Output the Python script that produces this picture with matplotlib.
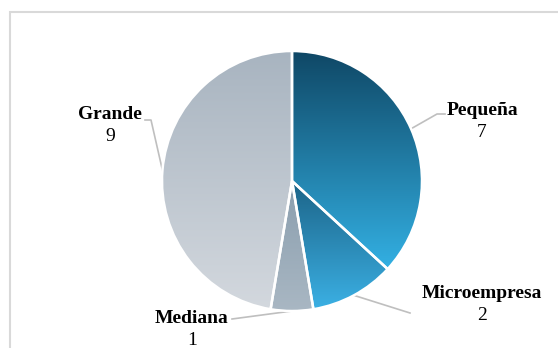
import matplotlib
matplotlib.use("Agg")
import matplotlib.pyplot as plt
import numpy as np
from matplotlib.colors import LinearSegmentedColormap
from matplotlib.patches import Rectangle

labels = ["Pequeña", "Microempresa", "Mediana", "Grande"]
values = [7, 2, 1, 9]

# gradient colours (top -> bottom) for each slice
grad_top = ["#0f4765", "#1c6387", "#8a9eae", "#a8b4c0"]
grad_bottom = ["#33b0e3", "#3bb0e4", "#a9b7c3", "#d3d8de"]

# layout in pixels of the original picture
cx, cy, rad = 292, 181, 130
label_xy = [(482, 115), (482, 298), (192, 323), (110, 119)]
number_dy = 22
elbow = [[(437, 114), (445, 114)],
         [(410, 313)],
         [(232, 319)],
         [(151, 120), (145, 120)]]


def px(x, y):
    return (x - cx) / rad, (cy - y) / rad


plt.rcParams['font.family'] = ['Liberation Serif', 'DejaVu Serif']

fig = plt.figure(figsize=(5.58, 3.48), dpi=100)
ax = fig.add_axes([0, 0, 1, 1])

wedges, _ = ax.pie(values, startangle=90, counterclock=False, radius=1,
                   wedgeprops=dict(edgecolor="white", linewidth=1.8))

total = sum(values)
angle = 90
for i, w in enumerate(wedges):
    w.set_facecolor("none")
    w.set_zorder(3)
    span = values[i] / total * 360
    a0, a1 = angle - span, angle
    angle = a0
    th = np.radians(np.linspace(a0, a1, 100))
    ys = np.concatenate([np.sin(th), [0]])
    xs = np.concatenate([np.cos(th), [0]])
    cmap = LinearSegmentedColormap.from_list("g%d" % i, [grad_bottom[i], grad_top[i]])
    grad = np.linspace(1, 0, 256).reshape(-1, 1)
    img = ax.imshow(grad, cmap=cmap, aspect="auto", zorder=2,
                    extent=[xs.min(), xs.max(), ys.min(), ys.max()],
                    interpolation="bilinear")
    img.set_clip_path(w)

    # leader line from the slice edge
    mid = np.radians((a0 + a1) / 2)
    pts = [(np.cos(mid), np.sin(mid))] + [px(*p) for p in elbow[i]]
    lx, ly = zip(*pts)
    ax.plot(lx, ly, color="#bfbfbf", lw=1.2, zorder=1)

    tx, ty = px(*label_xy[i])
    ax.text(tx, ty, labels[i], ha="center", va="baseline",
            fontsize=14, fontweight="bold", color="black")
    tx, ty = px(label_xy[i][0], label_xy[i][1] + number_dy)
    ax.text(tx, ty, str(values[i]), ha="center", va="baseline",
            fontsize=14, color="black")

ax.set_xlim(-cx / rad, (558 - cx) / rad)
ax.set_ylim(-(348 - cy) / rad, cy / rad)
ax.set_aspect("equal")
ax.axis("off")

fig.add_artist(Rectangle((10 / 558, -0.2), 1.2, (348 - 12) / 348 + 0.2,
                         transform=fig.transFigure, fill=False,
                         edgecolor="#d9d9d9", linewidth=1.5))

fig.savefig("out.png", dpi=100)
